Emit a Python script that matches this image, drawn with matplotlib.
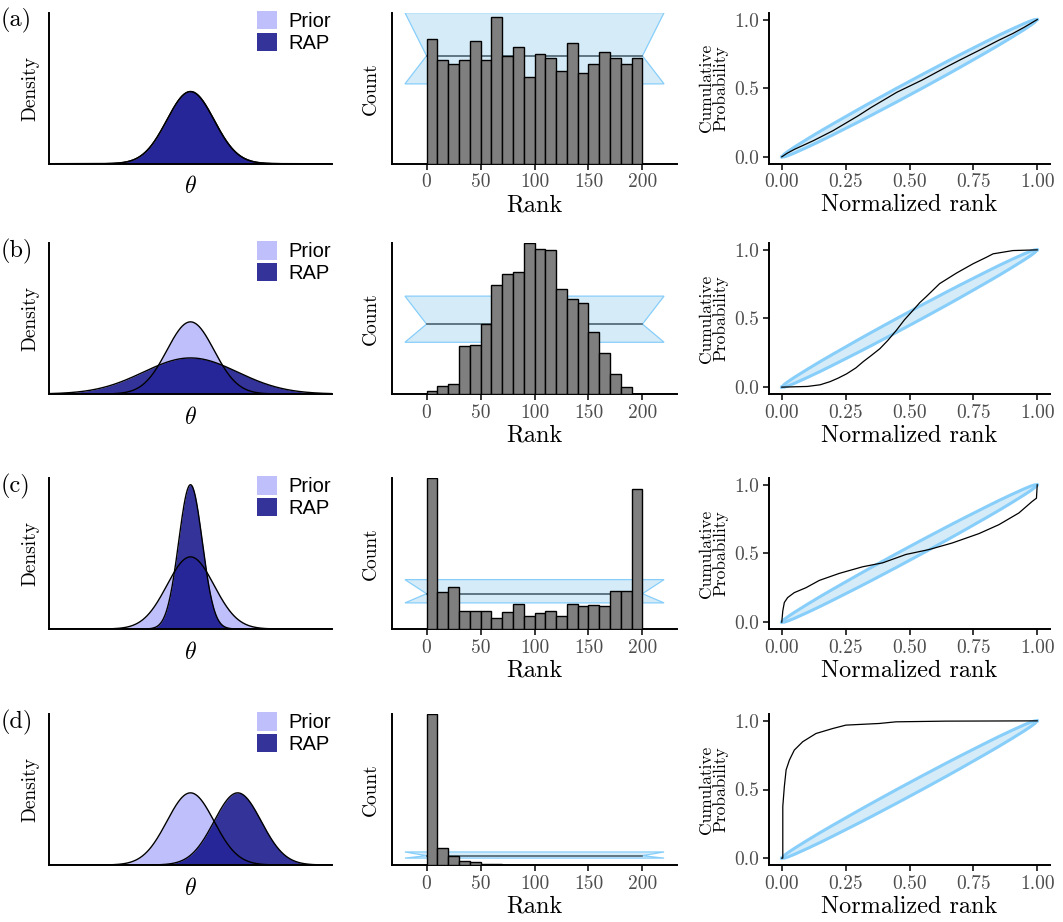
import numpy as np
import matplotlib
matplotlib.use('Agg')
from matplotlib import pyplot as plt
from matplotlib.patches import Patch

plt.rcParams['font.family'] = 'cmr10'
plt.rcParams['mathtext.fontset'] = 'cm'
plt.rcParams['axes.formatter.use_mathtext'] = True

# ---- data ----
panel_tags = ['(a)', '(b)', '(c)', '(d)']

# density column: normal prior vs RAP (mean, sd)
prior_mu = [0, 0, 0, 0]
prior_sd = [1, 1, 1, 1]
rap_mu = [0, 0, 0, 2]
rap_sd = [1, 2, 0.5, 1]

# rank histogram: 20 bins of width 10 over ranks 0..200
rank_edges = np.arange(0, 201, 10)
counts_a = [58, 48, 46, 48, 57, 48, 68, 50, 54, 40, 51, 49, 43, 56, 42, 46, 52, 49, 46, 49]
counts_b = [2, 6, 7, 34, 35, 50, 78, 86, 87, 108, 104, 103, 75, 68, 65, 44, 29, 14, 5, 0]
counts_c = [214, 52, 59, 25, 25, 26, 16, 24, 36, 18, 22, 25, 19, 36, 32, 34, 32, 54, 54, 198]
counts_d = [810, 89, 46, 24, 16, 6, 3, 2, 2, 1, 1, 0, 0, 0, 0, 0, 0, 0, 0, 0]
rank_counts = [counts_a, counts_b, counts_c, counts_d]
band_lower, band_mean, band_upper = 37, 50, 70

# ECDF of normalized ranks
ecdf_x_a = [0, 0.02, 0.05, 0.124, 0.2, 0.25, 0.3, 0.35, 0.4, 0.45, 0.5, 0.55, 0.6, 0.645, 0.7, 0.775, 0.85, 0.905, 0.95, 1.0]
ecdf_y_a = [0, 0.025, 0.055, 0.118, 0.19, 0.245, 0.3, 0.36, 0.415, 0.47, 0.515, 0.56, 0.61, 0.655, 0.708, 0.778, 0.85, 0.899, 0.945, 1.0]
ecdf_x_b = [0, 0.1, 0.15, 0.189, 0.22, 0.254, 0.29, 0.319, 0.35, 0.384, 0.415, 0.449, 0.48, 0.514, 0.54, 0.566, 0.618, 0.684, 0.749, 0.8, 0.827, 0.905, 1.0]
ecdf_y_b = [0, 0.005, 0.017, 0.04, 0.065, 0.097, 0.14, 0.186, 0.23, 0.28, 0.34, 0.415, 0.49, 0.56, 0.615, 0.66, 0.754, 0.831, 0.899, 0.945, 0.971, 0.995, 1.0]
ecdf_x_c = [0, 0.004, 0.01, 0.023, 0.049, 0.095, 0.147, 0.225, 0.316, 0.395, 0.486, 0.577, 0.668, 0.772, 0.85, 0.928, 0.98, 0.997, 1.0]
ecdf_y_c = [0, 0.082, 0.143, 0.179, 0.215, 0.251, 0.304, 0.355, 0.403, 0.432, 0.493, 0.529, 0.577, 0.645, 0.71, 0.795, 0.879, 0.903, 1.0]
ecdf_x_d = [0, 0.004, 0.004, 0.01, 0.017, 0.03, 0.049, 0.082, 0.134, 0.199, 0.251, 0.382, 0.447, 0.642, 1.0]
ecdf_y_d = [0, 0, 0.377, 0.52, 0.643, 0.715, 0.787, 0.848, 0.908, 0.944, 0.969, 0.981, 0.993, 0.998, 1.0]
ecdf_x = [ecdf_x_a, ecdf_x_b, ecdf_x_c, ecdf_x_d]
ecdf_y = [ecdf_y_a, ecdf_y_b, ecdf_y_c, ecdf_y_d]

# ECDF band: half width around the diagonal
band_x = [0, 0.01, 0.025, 0.05, 0.1, 0.15, 0.2, 0.25, 0.3, 0.35, 0.4, 0.45, 0.5,
          0.55, 0.6, 0.65, 0.7, 0.75, 0.8, 0.85, 0.9, 0.95, 0.975, 0.99, 1.0]
band_hw = [0, 0.010, 0.016, 0.022, 0.030, 0.036, 0.040, 0.043, 0.046, 0.048, 0.049, 0.050, 0.050,
           0.050, 0.049, 0.048, 0.046, 0.043, 0.040, 0.036, 0.030, 0.022, 0.016, 0.010, 0]

# ---- style ----
prior_col = '#bfbffc'
rap_col = 'navy'
band_fill = '#d5ecf8'
band_edge = '#87cefa'
tick_col = '#4d4d4d'

W, H = 1063, 922
fig = plt.figure(figsize=(W / 100, H / 100), dpi=100)

row_tops = [12.7, 243, 478, 714]
row_h = 151
cols = [(49, 332), (392, 677), (769, 1050)]


def px_axes(left, right, top, bottom):
    return fig.add_axes([left / W, 1 - bottom / H, (right - left) / W, (bottom - top) / H])


def classic(ax):
    for s in ['top', 'right']:
        ax.spines[s].set_visible(False)
    for s in ['left', 'bottom']:
        ax.spines[s].set_linewidth(1.4)
    ax.tick_params(length=4, width=1.1, colors='black', labelcolor=tick_col, labelsize=14, pad=3)


theta = np.linspace(-6, 6, 500)

for i in range(4):
    top = row_tops[i]
    bot = top + row_h

    # density panel
    ax = px_axes(cols[0][0], cols[0][1], top, bot)
    classic(ax)
    p = np.exp(-0.5 * ((theta - prior_mu[i]) / prior_sd[i]) ** 2) / (prior_sd[i] * np.sqrt(2 * np.pi))
    r = np.exp(-0.5 * ((theta - rap_mu[i]) / rap_sd[i]) ** 2) / (rap_sd[i] * np.sqrt(2 * np.pi))
    ax.fill_between(theta, p, color=prior_col, lw=0)
    ax.plot(theta, p, color='black', lw=1)
    ax.fill_between(theta, r, color=rap_col, alpha=0.8, lw=0)
    ax.plot(theta, r, color='black', lw=1)
    ax.set_xlim(-6, 6)
    ax.set_ylim(0, 0.835)
    ax.set_xticks([])
    ax.set_yticks([])
    ax.set_xlabel(r'$\theta$', fontsize=17, labelpad=9)
    ax.set_ylabel('Density', fontsize=14, labelpad=7)
    handles = [Patch(color=prior_col, lw=0), Patch(color=rap_col, alpha=0.8, lw=0)]
    ax.legend(handles, ['Prior', 'RAP'], loc='upper left', bbox_to_anchor=(0.735, 1.01),
              frameon=False, prop={'family': 'Liberation Sans', 'size': 14.5},
              handlelength=1.0, handleheight=1.0, labelspacing=0.1,
              handletextpad=0.55, borderpad=0, borderaxespad=0)
    fig.text(1 / W, 1 - (top + 8) / H, panel_tags[i], fontsize=17.5, va='center', ha='left')

    # rank histogram panel
    ax = px_axes(cols[1][0], cols[1][1], top, bot)
    classic(ax)
    ax.fill([-20, 0, -20, 220, 200, 220],
            [band_lower, band_mean, band_upper, band_upper, band_mean, band_lower],
            facecolor=band_fill, edgecolor=band_edge, lw=0.9, zorder=1)
    ax.plot([0, 200], [band_mean, band_mean], color='#4a6370', lw=1.2, zorder=2)
    ax.bar(rank_edges[:-1], rank_counts[i], width=10, align='edge',
           color='#7f7f7f', edgecolor='black', lw=1.0, zorder=3)
    ax.set_xlim(-32, 232)
    ax.set_ylim(0, max(max(rank_counts[i]), band_upper))
    ax.set_xticks([0, 50, 100, 150, 200], ['0', '50', '100', '150', '200'])
    ax.set_yticks([])
    ax.set_xlabel('Rank', fontsize=17.5, labelpad=2)
    ax.set_ylabel('Count', fontsize=14, labelpad=9)

    # ECDF panel
    ax = px_axes(cols[2][0], cols[2][1], top, bot)
    classic(ax)
    bx = np.array(band_x)
    bh = np.array(band_hw)
    ax.fill_between(bx, bx - bh, bx + bh, color=band_fill, lw=0, zorder=1)
    ax.plot(bx, bx + bh, color=band_edge, lw=2.2, zorder=2)
    ax.plot(bx, bx - bh, color=band_edge, lw=2.2, zorder=2)
    ax.plot(ecdf_x[i], ecdf_y[i], color='black', lw=0.9, zorder=3)
    ax.set_xlim(-0.05, 1.05)
    ax.set_ylim(-0.05, 1.05)
    ax.set_xticks([0, 0.25, 0.5, 0.75, 1.0], ['0.00', '0.25', '0.50', '0.75', '1.00'])
    ax.set_yticks([0, 0.5, 1.0], ['0.0', '0.5', '1.0'])
    ax.set_xlabel('Normalized rank', fontsize=17.5, labelpad=2)
    ax.set_ylabel('Cumulative\nProbability', fontsize=12.5, labelpad=4, linespacing=0.9)

fig.savefig('out.png', dpi=100)
